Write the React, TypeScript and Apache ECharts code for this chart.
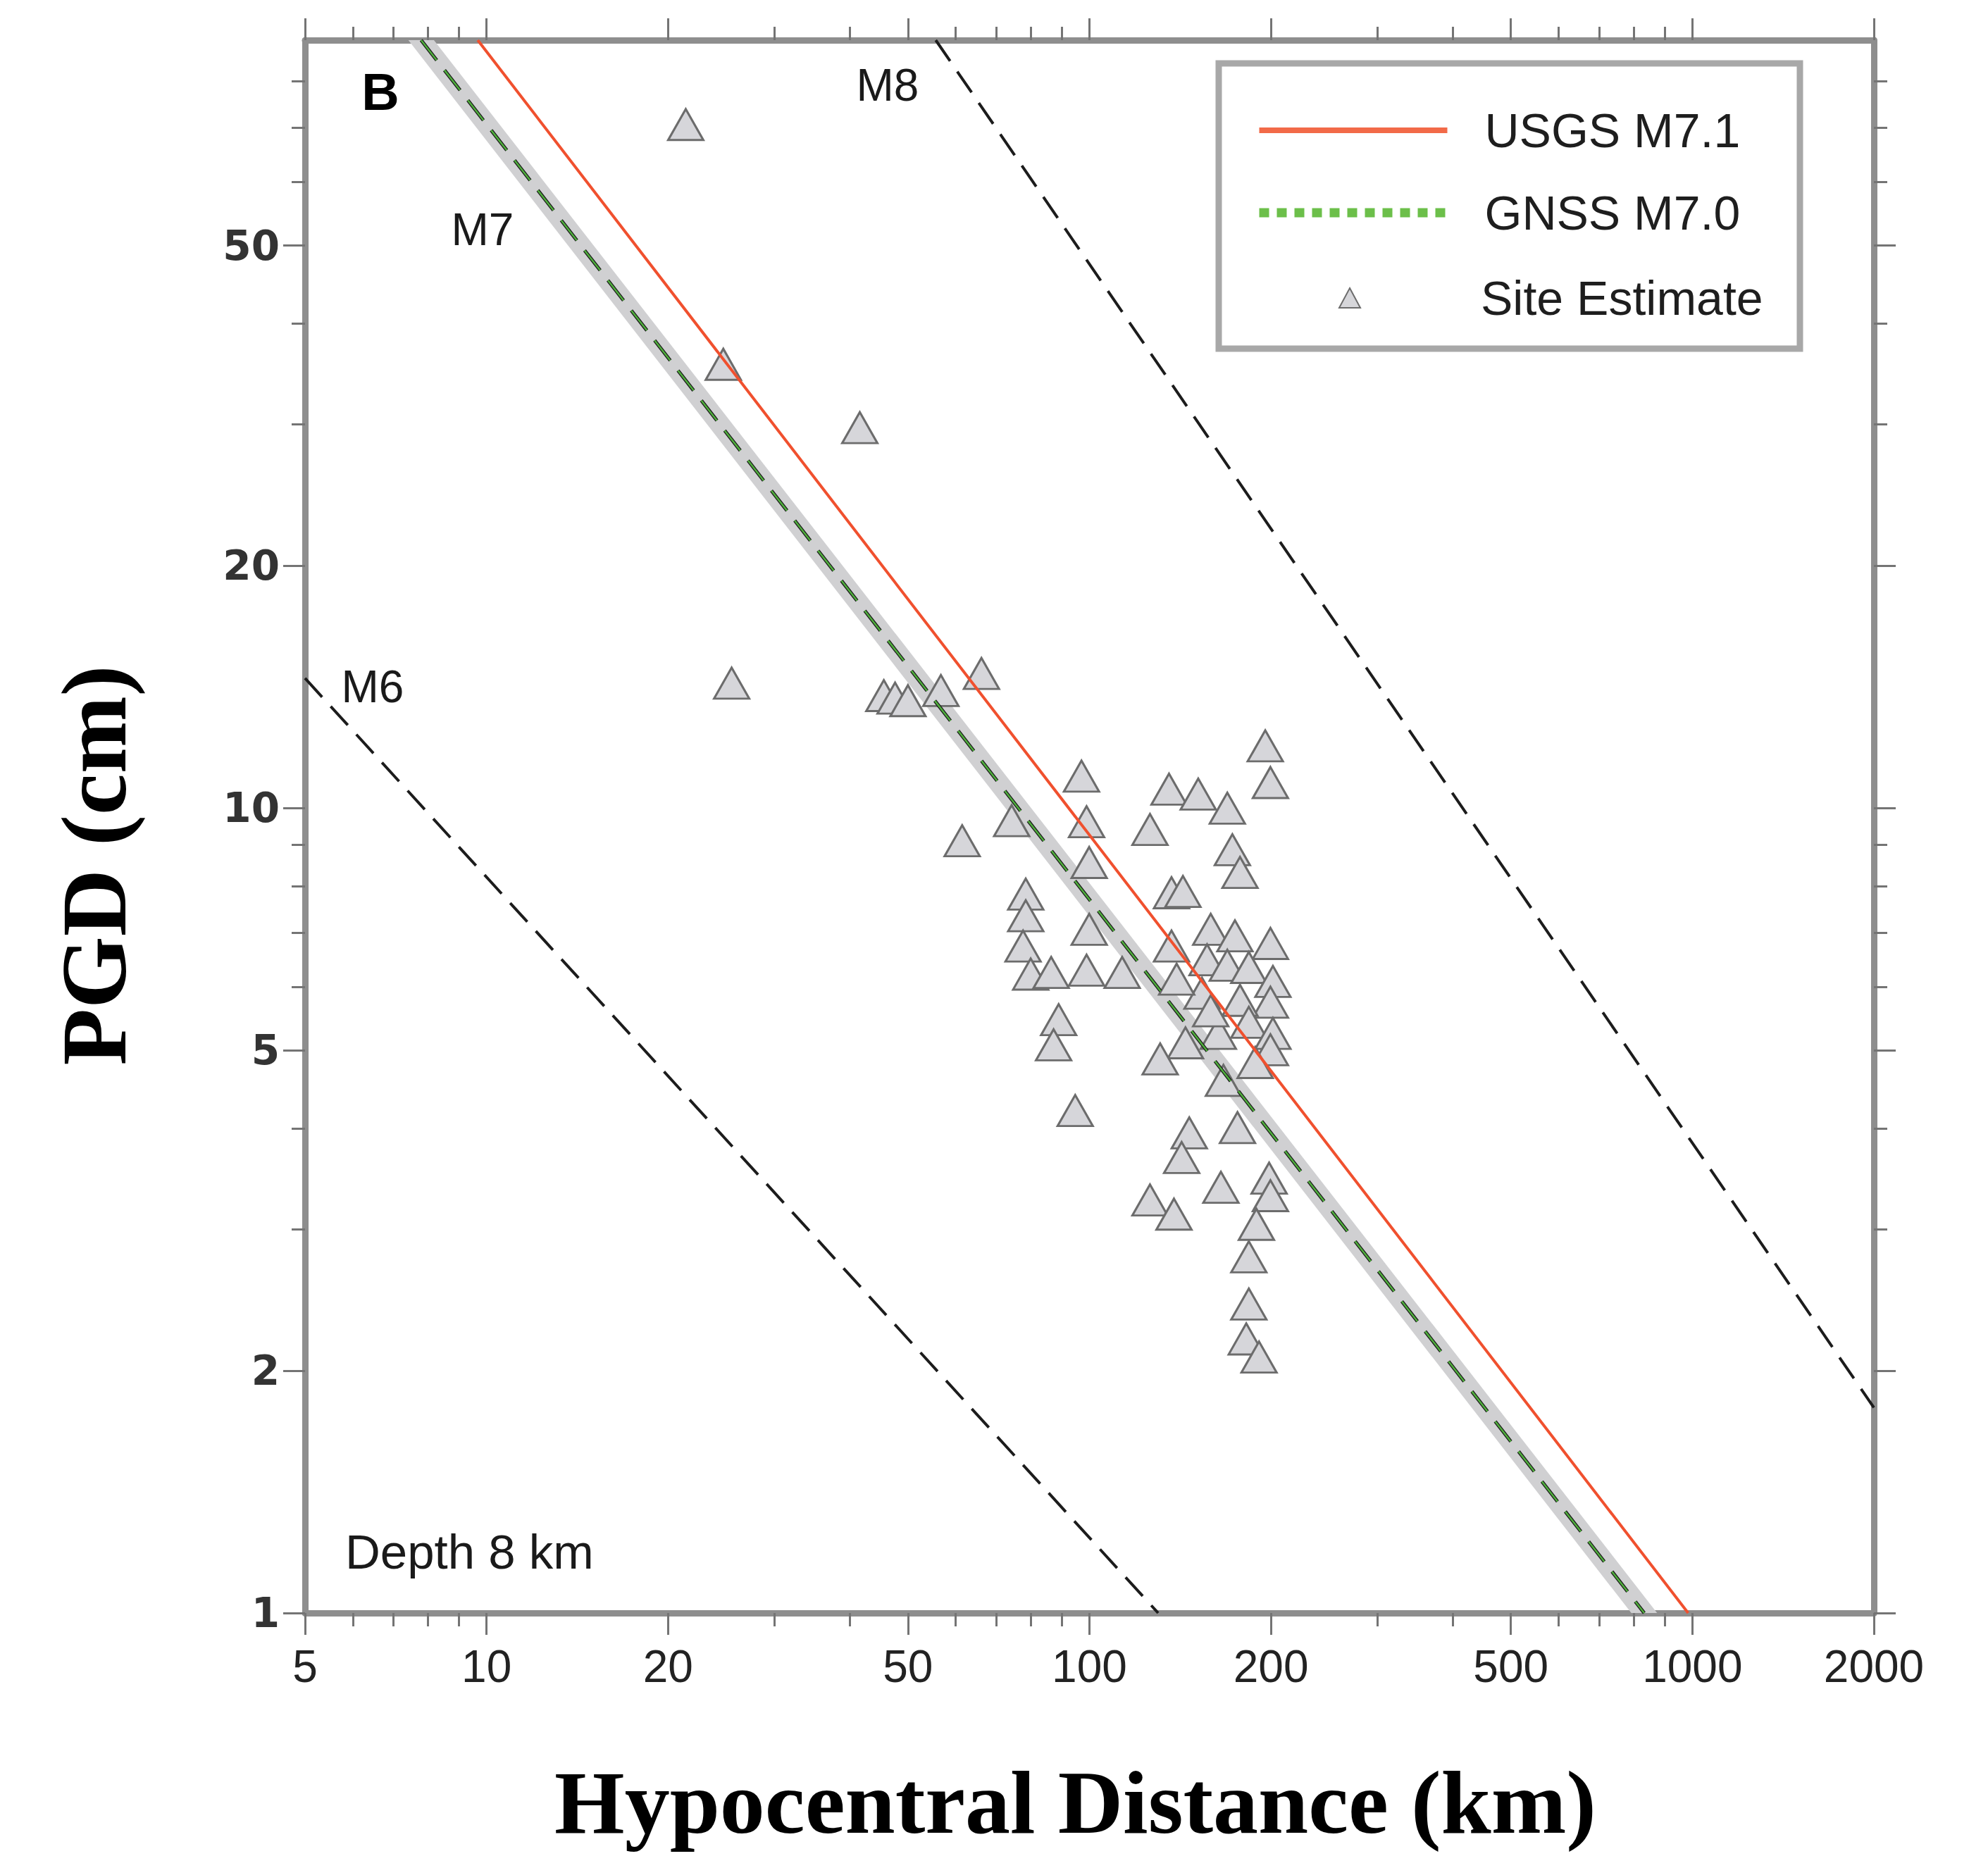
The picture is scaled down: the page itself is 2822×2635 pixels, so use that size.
import React, { useEffect, useRef } from 'react';
import * as echarts from 'echarts';

// ---- axis ticks (km / cm) ----
const xMajorTicks = [5, 10, 20, 50, 100, 200, 500, 1000, 2000];
const xMinorTicks = [6, 7, 8, 9, 30, 40, 60, 70, 80, 90, 300, 400, 600, 700, 800, 900];
const yMajorTicks = [1, 2, 5, 10, 20, 50];
const yMinorTicks = [3, 4, 6, 7, 8, 9, 30, 40, 60, 70, 80];
const xRange = [5, 2000];
const yRange = [1, 90];

// ---- scaling lines: [distance km, PGD cm] end points ----
const usgsM71 = [[9.67, 90], [984, 1]];
const gnssM70 = [[7.79, 90], [832, 1]];
const gnssBand = [[7.42, 90], [8.18, 90], [874, 1], [792, 1]];
const refM6 = [[5, 14.5], [130, 1]];
const refM7 = [[7.79, 90], [832, 1]];
const refM8 = [[55.6, 90], [2000, 1.8]];

// ---- site estimates ----
const siteDistanceKm = [
  21.4, 24.7, 41.6, 25.5, 45.6, 47.6, 50.0, 56.7, 66.2, 61.5,
  74.3, 97.0, 98.9, 99.9, 126.0, 135.5, 151.5, 169.3, 195.7, 199.6,
  172.6, 177.7, 136.8, 142.9, 78.4, 78.4, 77.6, 79.9, 86.4, 99.9,
  98.9, 113.3, 88.9, 87.2, 94.7, 158.9, 174.3, 199.6, 136.8, 156.7,
  169.3, 183.8, 201.5, 199.6, 177.7, 153.7, 139.5, 183.8, 201.5, 163.6,
  144.3, 131.0, 199.6, 166.8, 146.4, 142.2, 126.0, 138.1, 165.2, 198.6,
  199.6, 189.2, 183.8, 183.8, 182.0, 191.1, 176.0, 188.3, 158.9,
];
const sitePgdCm = [
  70.7, 35.6, 29.7, 14.3, 13.8, 13.7, 13.6, 14.0, 14.7, 9.11,
  9.65, 10.96, 9.62, 8.56, 9.41, 10.56, 10.41, 10.0, 11.95, 10.76,
  8.88, 8.32, 7.85, 7.88, 7.82, 7.35, 6.74, 6.22, 6.25, 7.07,
  6.29, 6.25, 5.46, 5.08, 4.21, 7.07, 6.94, 6.79, 6.74, 6.48,
  6.38, 6.34, 6.09, 5.74, 5.77, 5.89, 6.13, 5.42, 5.25, 5.25,
  5.11, 4.88, 5.01, 4.59, 3.95, 3.68, 3.26, 3.13, 3.38, 3.47,
  3.30, 3.04, 2.77, 2.42, 2.19, 2.08, 4.01, 4.83, 5.60,
];

const lg = (v: number) => Math.log10(v);
const toLog = (pts: number[][]) => pts.map(([x, y]) => [lg(x), lg(y)]);

const SANS = '"Liberation Sans", Arial, sans-serif';
const SERIF = '"Liberation Serif", "DejaVu Serif", serif';
const AXIS_COLOR = '#8e8e8e';
const TICK_COLOR = '#747474';

function buildOption() {
  const xMin = lg(xRange[0]);
  const xMax = lg(xRange[1]);
  const yMin = lg(yRange[0]);
  const yMax = lg(yRange[1]);
  const fmt = (v: number) => String(Math.round(Math.pow(10, v)));
  const gridRect = { left: 433, right: 162, top: 57, bottom: 345 };

  const majorAxisCommon = (ticks: number[], showLabel: boolean, kind: 'x' | 'y') => ({
    type: 'value',
    gridIndex: 0,
    axisLine: { show: true, onZero: false, lineStyle: { color: AXIS_COLOR, width: 9 } },
    axisTick: {
      show: true,
      customValues: ticks.map(lg),
      length: 31,
      lineStyle: { color: TICK_COLOR, width: 3 },
    },
    axisLabel: showLabel
      ? kind === 'x'
        ? {
            show: true,
            customValues: ticks.map(lg),
            formatter: fmt,
            margin: 44,
            fontFamily: SANS,
            fontSize: 64,
            color: '#222',
          }
        : {
            show: true,
            customValues: ticks.map(lg),
            formatter: fmt,
            margin: 36,
            fontFamily: '"DejaVu Sans", sans-serif',
            fontWeight: 'bold',
            fontSize: 58,
            color: '#333',
          }
      : { show: false },
    splitLine: { show: false },
  });

  const minorAxisCommon = (ticks: number[]) => ({
    type: 'value',
    gridIndex: 1,
    axisLine: { show: false, onZero: false },
    axisTick: {
      show: true,
      customValues: ticks.map(lg),
      length: 19,
      lineStyle: { color: TICK_COLOR, width: 3 },
    },
    axisLabel: { show: false },
    splitLine: { show: false },
  });

  const xAxes = [
    {
      ...majorAxisCommon(xMajorTicks, true, 'x'),
      position: 'bottom',
      min: xMin,
      max: xMax,
      name: 'Hypocentral Distance (km)',
      nameLocation: 'middle',
      nameGap: 205,
      nameTextStyle: {
        fontFamily: SERIF,
        fontWeight: 'bold',
        fontSize: 128,
        color: '#000',
        padding: [0, 40, 0, 0],
      },
    },
    { ...majorAxisCommon(xMajorTicks, false, 'x'), position: 'top', min: xMin, max: xMax },
    { ...minorAxisCommon(xMinorTicks), position: 'bottom', min: xMin, max: xMax },
    { ...minorAxisCommon(xMinorTicks), position: 'top', min: xMin, max: xMax },
  ];
  const yAxes = [
    {
      ...majorAxisCommon(yMajorTicks, true, 'y'),
      position: 'left',
      min: yMin,
      max: yMax,
      name: 'PGD (cm)',
      nameLocation: 'middle',
      nameGap: 234,
      nameTextStyle: {
        fontFamily: SERIF,
        fontWeight: 'bold',
        fontSize: 132,
        color: '#000',
        padding: [0, 110, 0, 0],
      },
    },
    { ...majorAxisCommon(yMajorTicks, false, 'y'), position: 'right', min: yMin, max: yMax },
    { ...minorAxisCommon(yMinorTicks), position: 'left', min: yMin, max: yMax },
    { ...minorAxisCommon(yMinorTicks), position: 'right', min: yMin, max: yMax },
  ];

  const bandLog = toLog(gnssBand);
  const dashed = (color: string, width: number) => ({
    color,
    width,
    type: [36, 18],
    cap: 'butt',
  });
  const lineSeries = (name: string, pts: number[][], lineStyle: any, z = 4) => ({
    name,
    type: 'line',
    xAxisIndex: 0,
    yAxisIndex: 0,
    data: toLog(pts),
    symbol: 'none',
    showSymbol: false,
    lineStyle,
    itemStyle: { color: lineStyle.color },
    silent: true,
    z,
    clip: true,
  });

  const siteData = siteDistanceKm.map((d, i) => [lg(d), lg(sitePgdCm[i])]);

  return {
    animation: false,
    backgroundColor: '#ffffff',
    grid: [
      { ...gridRect, containLabel: false },
      { ...gridRect, containLabel: false },
    ],
    xAxis: xAxes,
    yAxis: yAxes,
    legend: [
      {
        data: [
          {
            name: 'USGS M7.1',
            lineStyle: { width: 8, color: '#f26a48', type: 'solid' },
            itemStyle: { opacity: 0, borderWidth: 0 },
          },
          {
            name: 'GNSS M7.0',
            lineStyle: { width: 13, color: '#6cbf4a', type: [14, 11] },
            itemStyle: { opacity: 0, borderWidth: 0 },
          },
        ],
        orient: 'vertical',
        left: 1776,
        top: 140,
        itemWidth: 267,
        itemHeight: 30,
        itemGap: 37,
        selectedMode: false,
        textStyle: {
          fontFamily: SANS,
          fontSize: 68,
          lineHeight: 80,
          color: '#1e1e1e',
          padding: [0, 0, 0, 48],
        },
      },
      {
        data: ['Site Estimate'],
        orient: 'vertical',
        left: 1895,
        top: 378,
        itemWidth: 30,
        itemHeight: 28,
        selectedMode: false,
        textStyle: {
          fontFamily: SANS,
          fontSize: 68,
          lineHeight: 80,
          color: '#1e1e1e',
          padding: [0, 0, 0, 166],
        },
      },
    ],
    series: [
      {
        name: 'GNSS band',
        type: 'custom',
        xAxisIndex: 0,
        yAxisIndex: 0,
        data: bandLog,
        encode: { x: 0, y: 1 },
        silent: true,
        clip: true,
        z: 1,
        renderItem: (params: any, api: any) => {
          if (params.dataIndex !== 0) return null;
          return {
            type: 'polygon',
            shape: { points: bandLog.map((p) => api.coord(p)) },
            style: { fill: '#d0d0d2', stroke: 'none' },
          };
        },
      },
      {
        name: 'Site Estimate',
        type: 'scatter',
        xAxisIndex: 0,
        yAxisIndex: 0,
        data: siteData,
        symbol: 'triangle',
        symbolSize: [50, 44],
        itemStyle: { color: '#d6d6da', borderColor: '#6c6c6c', borderWidth: 3, opacity: 1 },
        z: 2,
      },
      lineSeries('M6', refM6, dashed('#1c1c1c', 4)),
      lineSeries('M8', refM8, dashed('#1c1c1c', 4)),
      lineSeries('M7', refM7, dashed('#1c1c1c', 5)),
      lineSeries('GNSS M7.0', gnssM70, dashed('#4fae3c', 2.5), 5),
      lineSeries('USGS M7.1', usgsM71, { color: '#f0502e', width: 4, type: 'solid' }, 6),
    ],
    graphic: [
      {
        type: 'rect',
        z: 10,
        shape: { x: 1730, y: 90, width: 825, height: 405 },
        style: { fill: 'rgba(255,255,255,0)', stroke: '#a8a8a8', lineWidth: 9 },
        silent: true,
      },
      {
        type: 'text',
        z: 10,
        style: {
          text: 'B',
          x: 540,
          y: 130,
          textAlign: 'center',
          textVerticalAlign: 'middle',
          fontFamily: SANS,
          fontWeight: 'bold',
          fontSize: 74,
          fill: '#000',
        },
      },
      {
        type: 'text',
        z: 10,
        style: {
          text: 'M8',
          x: 1260,
          y: 121,
          textAlign: 'center',
          textVerticalAlign: 'middle',
          fontFamily: SANS,
          fontSize: 64,
          fill: '#1a1a1a',
        },
      },
      {
        type: 'text',
        z: 10,
        style: {
          text: 'M7',
          x: 685,
          y: 326,
          textAlign: 'center',
          textVerticalAlign: 'middle',
          fontFamily: SANS,
          fontSize: 64,
          fill: '#1a1a1a',
        },
      },
      {
        type: 'text',
        z: 10,
        style: {
          text: 'M6',
          x: 529,
          y: 975,
          textAlign: 'center',
          textVerticalAlign: 'middle',
          fontFamily: SANS,
          fontSize: 64,
          fill: '#1a1a1a',
        },
      },
      {
        type: 'text',
        z: 10,
        style: {
          text: 'Depth 8 km',
          x: 490,
          y: 2203,
          textAlign: 'left',
          textVerticalAlign: 'middle',
          fontFamily: SANS,
          fontSize: 69,
          fill: '#1a1a1a',
        },
      },
    ],
  };
}

export default function App() {
  const ref = useRef<HTMLDivElement>(null);
  useEffect(() => {
    if (!ref.current) return;
    const chart = echarts.init(ref.current, undefined, { renderer: 'svg' });
    chart.setOption(buildOption() as any);
    return () => chart.dispose();
  }, []);
  return (
    <div
      ref={ref}
      style={{ position: 'fixed', left: 0, top: 0, width: 2822, height: 2635, background: '#fff' }}
    />
  );
}
